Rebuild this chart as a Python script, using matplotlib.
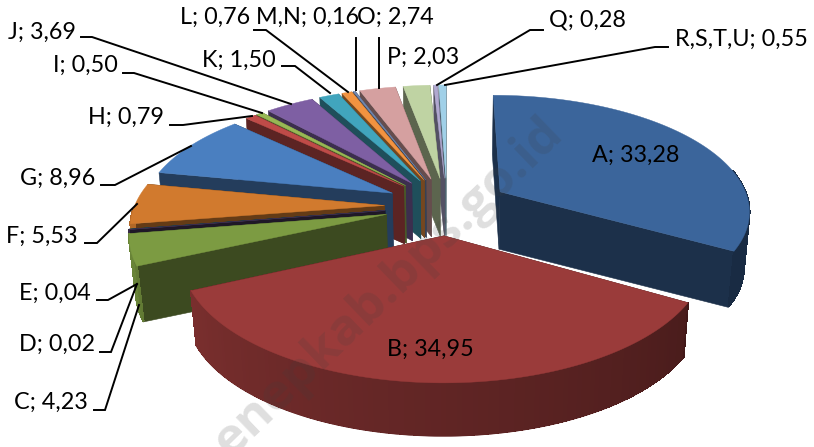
import numpy as np
import matplotlib
matplotlib.use("Agg")
import matplotlib.pyplot as plt
from matplotlib.colors import to_rgb

# =====================================================
# DATA
# =====================================================

categories = ["A", "B", "C", "D", "E", "F", "G", "H", "I", "J", "K", "L",
              "M,N", "O", "P", "Q", "R,S,T,U"]
shares = [33.28, 34.95, 4.23, 0.02, 0.04, 5.53, 8.96, 0.79, 0.50, 3.69, 1.50,
          0.76, 0.16, 2.74, 2.03, 0.28, 0.55]

# =====================================================
# STYLE
# =====================================================

colors = ["#3b659b", "#9a3b3a", "#7c9b42", "#403152", "#215868", "#d17a2e",
          "#4a7fc0", "#bf4b48", "#98b855", "#7e5fa3", "#41a5bd", "#f29340",
          "#7388b0", "#d5a0a0", "#bfd3a3", "#b0a8d0", "#a0d0e8"]

# label centres in pixels
label_x = [636, 430, 51, 57, 55, 42, 58, 126, 85, 42, 239, 215, 308, 395, 423, 587, 741]
label_y = [155, 349, 402, 344, 293, 236, 178, 117, 65, 32, 60, 17, 17, 17, 57, 20, 39]

leaders = [
    [(81, 37), (92, 37), (291, 104)],
    [(123, 73), (134, 73), (262, 113)],
    [(170, 125), (183, 125), (252, 116)],
    [(101, 185), (115, 185), (191, 146)],
    [(85, 243), (97, 243), (137, 204)],
    [(97, 300), (108, 300), (137, 284)],
    [(100, 352), (111, 352), (137, 284)],
    [(94, 410), (105, 410), (139, 305)],
    [(282, 66), (295, 66), (330, 93)],
    [(254, 30), (266, 30), (348, 92)],
    [(356, 38), (356, 90)],
    [(379, 38), (379, 88)],
    [(543, 30), (530, 30), (437, 85)],
    [(668, 47), (655, 47), (445, 85)],
]

CX, CY = 447, 206
RX, RY = 250, 115
PERSP = 0.15
EXPLODE = 0.25
DEPTH = 57
BOTTOM_SCALE = 0.98
START = 0.0

# =====================================================
# PROJECTION
# =====================================================


def project(x, y):
    s = 1.0 / (1.0 + PERSP * y)
    return CX + RX * x * s, CY - RY * y * s


def lower(px, py):
    return CX + (px - CX) * BOTTOM_SCALE, CY + (py - CY) * BOTTOM_SCALE + DEPTH


def shade(color, f):
    return tuple(c * f for c in to_rgb(color))


def rim_shade(theta):
    if theta < 120:
        return 0.43
    if theta < 250:
        return 0.48 + 0.32 * (theta - 120) / 130
    return 0.85


def rim_visible(theta):
    c = np.cos(np.radians(theta))
    if theta < 180:
        return c < 0.2
    return c < -0.02


# =====================================================
# FIGURE
# =====================================================

fig = plt.figure(figsize=(8.14, 4.47), dpi=100)
ax = fig.add_axes([0, 0, 1, 1])
ax.set_xlim(0, 814)
ax.set_ylim(447, 0)
ax.axis("off")

values = np.array(shares)
edges = START + np.concatenate([[0], np.cumsum(values)]) / values.sum() * 360.0
mids = (edges[:-1] + edges[1:]) / 2.0

# back slices first, front slices last
order = np.argsort(-np.cos(np.radians(mids)))

for i in order:
    t0, t1, mid = edges[i], edges[i + 1], mids[i]
    ox = EXPLODE * np.sin(np.radians(mid))
    oy = EXPLODE * np.cos(np.radians(mid))
    n = max(3, int(t1 - t0) + 2)
    th = np.radians(np.linspace(t0, t1, n))
    ring_x, ring_y = project(ox + np.sin(th), oy + np.cos(th))
    ax_, ay_ = project(ox, oy)
    low_x, low_y = lower(ring_x, ring_y)
    alx, aly = lower(ax_, ay_)

    # radial walls
    walls = [
        ([ax_, ring_x[0], low_x[0], alx], [ay_, ring_y[0], low_y[0], aly]),
        ([ax_, ring_x[-1], low_x[-1], alx], [ay_, ring_y[-1], low_y[-1], aly]),
    ]
    for wx, wy in walls:
        ax.fill(wx, wy, color=shade(colors[i], 0.48), lw=0.4, zorder=1)

    # outer rim, one smooth outline and then the gradient inside it
    keep = [k for k in range(n) if rim_visible(np.degrees(th[k]))]
    if len(keep) > 1:
        a, b = keep[0], keep[-1]
        ax.fill(np.r_[ring_x[a:b + 1], low_x[a:b + 1][::-1]],
                np.r_[ring_y[a:b + 1], low_y[a:b + 1][::-1]],
                color=shade(colors[i], rim_shade(np.degrees(th[(a + b) // 2]))),
                lw=0.4, zorder=1)
        for k in range(a, b):
            f = rim_shade(np.degrees(th[k]))
            ax.fill([ring_x[k], ring_x[k + 1], low_x[k + 1] + 0.4, low_x[k] + 0.4],
                    [ring_y[k], ring_y[k + 1], low_y[k + 1] - 1, low_y[k] - 1],
                    facecolor=shade(colors[i], f), edgecolor=shade(colors[i], f),
                    lw=0.8, antialiased=False, zorder=1)

    # top face
    ax.fill(np.r_[ax_, ring_x], np.r_[ay_, ring_y], color=colors[i], lw=0.3, zorder=1)

# =====================================================
# WATERMARK
# =====================================================

ax.text(556, 126, "enepkab.bps.go.id", rotation=44, rotation_mode="anchor",
        ha="right", va="center", fontsize=37, fontweight="bold",
        family="Open Sans", color="#404040", alpha=0.17, zorder=2)

# =====================================================
# LABELS
# =====================================================

for pts in leaders:
    xs, ys = zip(*pts)
    ax.plot(xs, ys, color="black", lw=1.4, zorder=3, solid_joinstyle="miter")

for name, val, x, y in zip(categories, shares, label_x, label_y):
    text = f"{name}; {val:.2f}".replace(".", ",")
    ax.text(x, y, text, ha="center", va="center", fontsize=16.8,
            family="Lato", color="black", zorder=4)

fig.savefig("out.png", dpi=100)
